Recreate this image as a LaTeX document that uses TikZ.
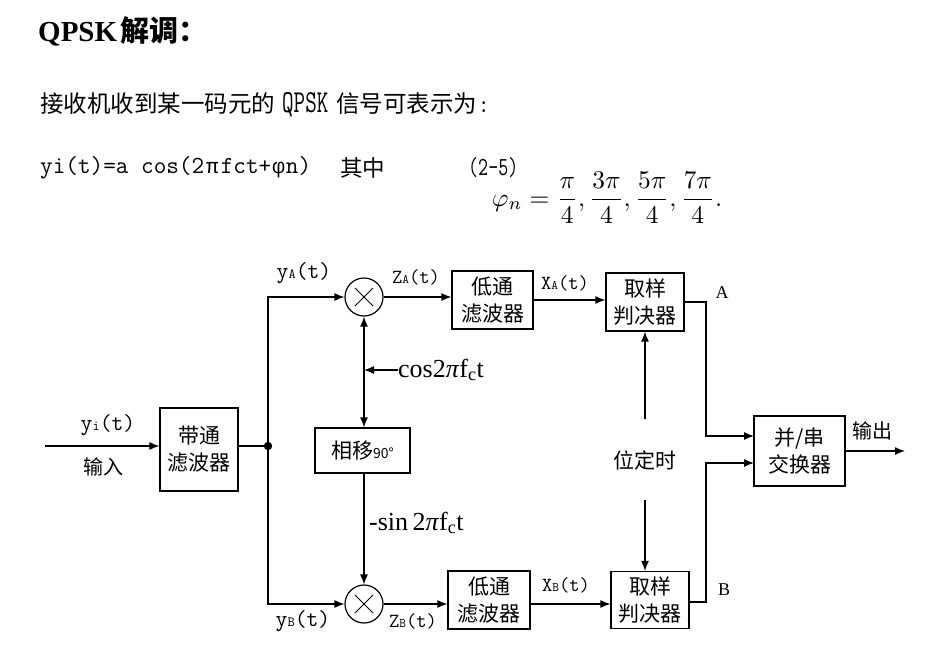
\documentclass[tikz,border=0pt]{standalone}
\usepackage{fontspec}
\setmainfont{Liberation Serif}
\newfontfamily\cjk{Noto Sans CJK SC}
\newfontfamily\mono{Liberation Mono}
\newfontfamily\lmm{Latin Modern Mono}
\usetikzlibrary{arrows.meta}
\begin{document}
\begin{tikzpicture}[x=1pt,y=-1pt,
  box/.style={draw,line width=1.2pt,inner sep=0pt,align=center,font=\cjk\fontsize{21}{27}\selectfont},
  conn/.style={line width=1.2pt},
  arr/.style={conn,-{Latex[length=10pt,width=8pt]}},
  biarr/.style={conn,{Latex[length=10pt,width=8pt]}-{Latex[length=10pt,width=8pt]}},
  mult/.style={draw,circle,line width=1.2pt,minimum size=38pt,inner sep=0pt,
    path picture={\draw[line width=1pt] ([shift={(-9,-9)}]path picture bounding box.center) -- ([shift={(9,9)}]path picture bounding box.center);
                  \draw[line width=1pt] ([shift={(9,-9)}]path picture bounding box.center) -- ([shift={(-9,9)}]path picture bounding box.center);}},
  lbl/.style={inner sep=0pt,font=\lmm\fontsize{23}{23}\selectfont},
  slbl/.style={inner sep=0pt,font=\lmm\fontsize{20}{20}\selectfont},
  clbl/.style={inner sep=0pt,font=\cjk\fontsize{20}{20}\selectfont},
  tlbl/.style={inner sep=0pt,font=\fontsize{26}{26}\selectfont},
  txt/.style={inner sep=0pt,anchor=west}]
\useasboundingbox (0,0) rectangle (948,667);
\fill[white] (0,0) rectangle (948,667);

% header text
\node[txt,font=\bfseries\fontsize{29}{29}\selectfont] (title) at (38,31) {QPSK\hspace{3pt}{\cjk\bfseries 解调：}};
\node[txt,font=\cjk\fontsize{23.5}{24}\selectfont] (intro) at (40,105) {接收机收到某一码元的\hspace{7pt}\scalebox{0.7}[1]{\lmm\fontsize{32}{32}\selectfont QPSK}\hspace{8pt}信号可表示为{\lmm\fontsize{25}{25}\selectfont :}};
\node[txt,font=\lmm\fontsize{24.5}{25}\selectfont] (eq) at (40,168) {yi(t)=a cos(2\hspace{2pt}{\mono\fontsize{21}{21}\selectfont π}\hspace{2pt}fct+\hspace{1pt}{\mono\fontsize{21}{21}\selectfont φ}\hspace{1pt}n)};
\node[txt,font=\cjk\fontsize{22.5}{22}\selectfont] (qz) at (340,168) {其中};
\node[txt] (eqno) at (468,168) {\scalebox{0.75}[1]{\lmm\fontsize{26}{26}\selectfont (2-5)}};
\node[inner sep=0pt] (phi) at (607,198) {\scalebox{2.55}{$\displaystyle \varphi_n=\frac{\pi}{4},\frac{3\pi}{4},\frac{5\pi}{4},\frac{7\pi}{4}.$}};

% blocks
\node[box,minimum width=78pt,minimum height=83pt] (bpf) at (199,449.5) {带通\\滤波器};
\node[mult] (mA) at (364,297) {};
\node[mult] (mB) at (364,604) {};
\node[box,minimum width=81pt,minimum height=58pt] (lpfA) at (492.5,300) {低通\\滤波器};
\node[box,minimum width=82pt,minimum height=58pt] (lpfB) at (489,600) {低通\\滤波器};
\node[box,minimum width=78pt,minimum height=58pt] (sA) at (645,302) {取样\\判决器};
\node[box,minimum width=78pt,minimum height=57pt] (sB) at (650,600) {取样\\判决器};
\node[box,minimum width=91pt,minimum height=70pt] (ps) at (799.5,451) {并/串\\交换器};
\node[box,minimum width=95pt,minimum height=45pt,font=\cjk\fontsize{21}{21}\selectfont] (ph) at (362.5,450.5) {相移{\fontsize{14}{14}\selectfont 90°}};
\node[inner sep=0pt,font=\cjk\fontsize{21}{21}\selectfont] (tim) at (645,460) {位定时};
\fill (268,446) circle (4.2pt);
\coordinate (dot) at (268,446);

% free-end coordinates
\coordinate (in) at (45,446);
\coordinate (out) at (905,451);
\coordinate (psA) at (754,436);
\coordinate (psB) at (754,463);
\coordinate (timU) at (645,419);
\coordinate (timD) at (645,500);
\coordinate (cosS) at (398,370);
\coordinate (cosE) at (364,370);

% connectors
\draw[arr] (in) -- (bpf.west |- in);
\draw[conn] (bpf.east |- dot) -- (dot);
\draw[arr] (dot) |- (mA.west);
\draw[arr] (dot) |- (mB.west);
\draw[arr] (mA.east) -- (mA.east -| lpfA.west);
\draw[arr] (lpfA.east) -- (sA.west |- lpfA.east);
\draw[arr] (mB.east) -- (mB.east -| lpfB.west);
\draw[arr] (lpfB.east |- mB.east) -- (sB.west |- mB.east);
\draw[biarr] (mA.south) -- (mA.south |- ph.north);
\draw[arr] (cosS) -- (cosE);
\draw[arr] (mB.north |- ph.south) -- (mB.north);
\draw[arr] (timU) -- (timU |- sA.south);
\draw[arr] (timD) -- (timD |- sB.north);
\draw[arr] (sA.east) -- (706,302) |- (psA);
\draw[arr] (sB.east |- 0,602) -- (706,602) |- (psB);
\draw[arr] (ps.east) -- (out);

% labels
\node[lbl] (lyi) at (108,425) {y{\fontsize{14}{14}\selectfont i}(t)};
\node[clbl] (lin) at (103,467) {输入};
\node[lbl] (lyA) at (304,273) {y{\fontsize{14}{14}\selectfont A}(t)};
\node[lbl] (lyB) at (303,621) {y{\fontsize{14}{14}\selectfont B}(t)};
\node[slbl] (lzA) at (416,277) {Z{\fontsize{13}{13}\selectfont A}(t)};
\node[slbl] (lzB) at (413,621) {Z{\fontsize{13}{13}\selectfont B}(t)};
\node[slbl] (lxA) at (565,283) {X{\fontsize{13}{13}\selectfont A}(t)};
\node[slbl] (lxB) at (566,585) {X{\fontsize{13}{13}\selectfont B}(t)};
\node[inner sep=0pt,font=\fontsize{18}{18}\selectfont] (lA) at (722,293) {A};
\node[inner sep=0pt,font=\fontsize{18}{18}\selectfont] (lB) at (724,590) {B};
\node[clbl] (lout) at (872,431) {输出};
\node[tlbl,anchor=west] (lcos) at (cosS) {cos2\textit{π}f\textsubscript{c}t};
\node[tlbl,anchor=west] (lsin) at (369,523) {-sin\,2\textit{π}f\textsubscript{c}t};
\end{tikzpicture}
\end{document}
